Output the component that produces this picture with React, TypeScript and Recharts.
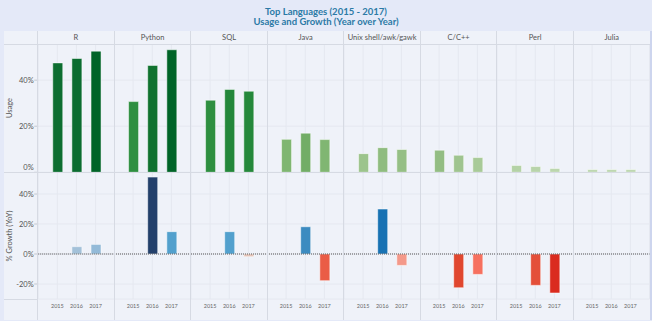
import React from 'react';
import { BarChart, Bar, XAxis, YAxis, CartesianGrid, Cell, ReferenceLine } from 'recharts';

const languages = ['R', 'Python', 'SQL', 'Java', 'Unix shell/awk/gawk', 'C/C++', 'Perl', 'Julia'];
const years = ['2015', '2016', '2017'];

// usage share (%) per language, one list per year
const usage2015 = [47.5, 30.7, 31.3, 14.3, 8.1, 9.6, 3.0, 1.2];
const usage2016 = [49.4, 46.4, 36.0, 17.0, 10.7, 7.4, 2.5, 1.2];
const usage2017 = [52.6, 53.2, 35.2, 14.2, 9.9, 6.4, 1.7, 1.2];

// year over year growth (%), no value for the first year
const growth2015 = [null, null, null, null, null, null, null, null];
const growth2016 = [4.9, 51.3, 14.9, 18.2, 30.0, -22.5, -20.9, 0];
const growth2017 = [6.4, 14.9, -1.8, -17.8, -7.6, -13.6, -26.0, 0];

const usageTicks = [0, 20, 40];
const growthTicks = [-20, 0, 20, 40];

// colours (Tableau sequential green / diverging blue-red)
const usageColors = [
  ['#0d6e31', '#0b6c30', '#006428'],
  ['#2e8f40', '#10722f', '#006428'],
  ['#2e8f40', '#23873a', '#25883b'],
  ['#7fb671', '#72ad66', '#80b672'],
  ['#9cc48c', '#8fbc7f', '#95bf85'],
  ['#93bd83', '#9fc48f', '#a8ca98'],
  ['#b4d2a6', '#b8d4aa', '#bbd6ad'],
  ['#bed7b1', '#bed7b1', '#bed7b1'],
];
const growthColors = [
  ['#cccccc', '#a3c1d9', '#93bad8'],
  ['#cccccc', '#23406b', '#52a0cd'],
  ['#cccccc', '#52a0cd', '#e3c2b6'],
  ['#cccccc', '#3c8bc0', '#ea5c46'],
  ['#cccccc', '#1872b3', '#f4998a'],
  ['#cccccc', '#e0472f', '#f6705f'],
  ['#cccccc', '#e44f39', '#da2b1f'],
  ['#cccccc', '#cccccc', '#cccccc'],
];

const FONT = "Lato, 'Noto Sans', sans-serif";
const INNER_L = 3.5;
const INNER_T = 31;
const INNER_R = 650;
const INNER_B = 319.5;
const HEAD_B = 44;
const MID = 172.3;
const PLOT_B = 299.3;
const AXIS_R = 37.7;
const AXIS_W = AXIS_R - INNER_L;
const PANEL_W = (INNER_R - AXIS_R) / 8;
const PAD = PANEL_W / 8;
const LINE = '#d6dae3';
const GRID = '#e5e8f0';

const usageRows = (i: number) =>
  years.map((year, k) => ({ year, value: [usage2015, usage2016, usage2017][k][i] }));
const growthRows = (i: number) =>
  years.map((year, k) => ({ year, value: [growth2015, growth2016, growth2017][k][i] }));

const YTick = (props: any) => {
  const { x, y, payload, lift } = props;
  const dy = lift && payload.value === 0 ? -5 : 0;
  return (
    <text x={x} y={y + dy} dy="0.35em" textAnchor="end" fontSize={7.5} fill="#555" fontFamily={FONT}>
      {payload.value}%
    </text>
  );
};

const Panel = ({ i, kind }: { i: number; kind: 'usage' | 'growth' }) => {
  const first = i === 0;
  const isUsage = kind === 'usage';
  const width = first ? AXIS_W + PANEL_W : PANEL_W;
  const left = first ? INNER_L : AXIS_R + i * PANEL_W;
  const top = isUsage ? HEAD_B : MID;
  const height = isUsage ? MID - HEAD_B : INNER_B - MID;
  const data = isUsage ? usageRows(i) : growthRows(i);
  const colors = isUsage ? usageColors[i] : growthColors[i];
  return (
    <div style={{ position: 'absolute', left, top, width, height }}>
      <BarChart width={width} height={height} data={data} margin={{ top: 0, right: 0, bottom: 0, left: 0 }}>
        <CartesianGrid stroke={GRID} strokeWidth={1} />
        <XAxis
          dataKey="year"
          hide={isUsage}
          height={INNER_B - PLOT_B}
          padding={{ left: PAD, right: PAD }}
          axisLine={false}
          tickLine={false}
          tickSize={4}
          tickMargin={1}
          interval={0}
          tick={{ fontSize: 5.5, fill: '#666', fontFamily: FONT }}
        />
        <YAxis
          hide={!first}
          width={AXIS_W}
          domain={isUsage ? [0, 55.7] : [-30, 54.7]}
          ticks={isUsage ? usageTicks : growthTicks}
          interval={0}
          allowDataOverflow
          axisLine={false}
          tickLine={{ stroke: '#c4c8d0' }}
          tickSize={4}
          tickMargin={0.5}
          tick={<YTick lift={isUsage} />}
        />
        {!isUsage && <ReferenceLine y={0} stroke="#555" strokeDasharray="1 1" strokeWidth={1} />}
        <Bar dataKey="value" barSize={10} isAnimationActive={false} stroke="#ffffff" strokeOpacity={0.5} strokeWidth={1}>
          {data.map((d, k) => (
            <Cell key={d.year} fill={colors[k]} />
          ))}
        </Bar>
      </BarChart>
    </div>
  );
};

const hLine = (x1: number, x2: number, y: number) => (
  <div style={{ position: 'absolute', left: x1, top: y - 0.5, width: x2 - x1, height: 1, background: LINE }} />
);
const vLine = (x: number, y1: number, y2: number) => (
  <div style={{ position: 'absolute', left: x - 0.5, top: y1, width: 1, height: y2 - y1, background: LINE }} />
);

export default function App() {
  return (
    <div style={{ position: 'absolute', left: 0, top: 0, width: 652, height: 321, background: '#e4e9f8', overflow: 'hidden', fontFamily: FONT }}>
      <div style={{ position: 'absolute', left: 0, top: 7, width: 652, textAlign: 'center', color: '#2b7aa6', fontSize: 9.5, fontWeight: 700, lineHeight: '10px', fontFamily: "'Liberation Sans Narrow', Lato, sans-serif" }}>
        <div style={{ height: 10 }}>Top Languages (2015 - 2017)</div>
        <div style={{ height: 10 }}>Usage and Growth (Year over Year)</div>
      </div>
      <div style={{ position: 'absolute', left: INNER_R, top: INNER_T, width: 2, height: INNER_B - INNER_T, background: '#cdd5ee' }} />
      <div style={{ position: 'absolute', left: INNER_L, top: INNER_T, width: INNER_R - INNER_L, height: INNER_B - INNER_T, background: '#eff2f9' }} />

      {languages.map((lang, i) => (
        <div key={lang} style={{ position: 'absolute', left: AXIS_R + i * PANEL_W, top: INNER_T, width: PANEL_W, height: HEAD_B - INNER_T, lineHeight: `${HEAD_B - INNER_T}px`, textAlign: 'center', fontSize: 7.5, color: '#555' }}>
          {lang}
        </div>
      ))}

      {languages.map((lang, i) => (
        <Panel key={'u' + lang} i={i} kind="usage" />
      ))}
      {languages.map((lang, i) => (
        <Panel key={'g' + lang} i={i} kind="growth" />
      ))}

      <div style={{ position: 'absolute', left: 10 - 40, top: (HEAD_B + MID) / 2 - 5, width: 80, height: 10, lineHeight: '10px', textAlign: 'center', fontSize: 7.5, color: '#555', transform: 'rotate(-90deg)' }}>
        Usage
      </div>
      <div style={{ position: 'absolute', left: 10 - 40, top: (MID + PLOT_B) / 2 - 5, width: 80, height: 10, lineHeight: '10px', textAlign: 'center', fontSize: 7.5, color: '#555', transform: 'rotate(-90deg)' }}>
        % Growth (YoY)
      </div>

      {hLine(INNER_L, INNER_R, HEAD_B)}
      {hLine(INNER_L, INNER_R, MID)}
      {hLine(INNER_L, AXIS_R, PLOT_B)}
      {vLine(AXIS_R, INNER_T, INNER_B)}
      {languages.slice(1).map((lang, i) => (
        <React.Fragment key={'v' + lang}>{vLine(AXIS_R + (i + 1) * PANEL_W, INNER_T, INNER_B)}</React.Fragment>
      ))}
    </div>
  );
}
